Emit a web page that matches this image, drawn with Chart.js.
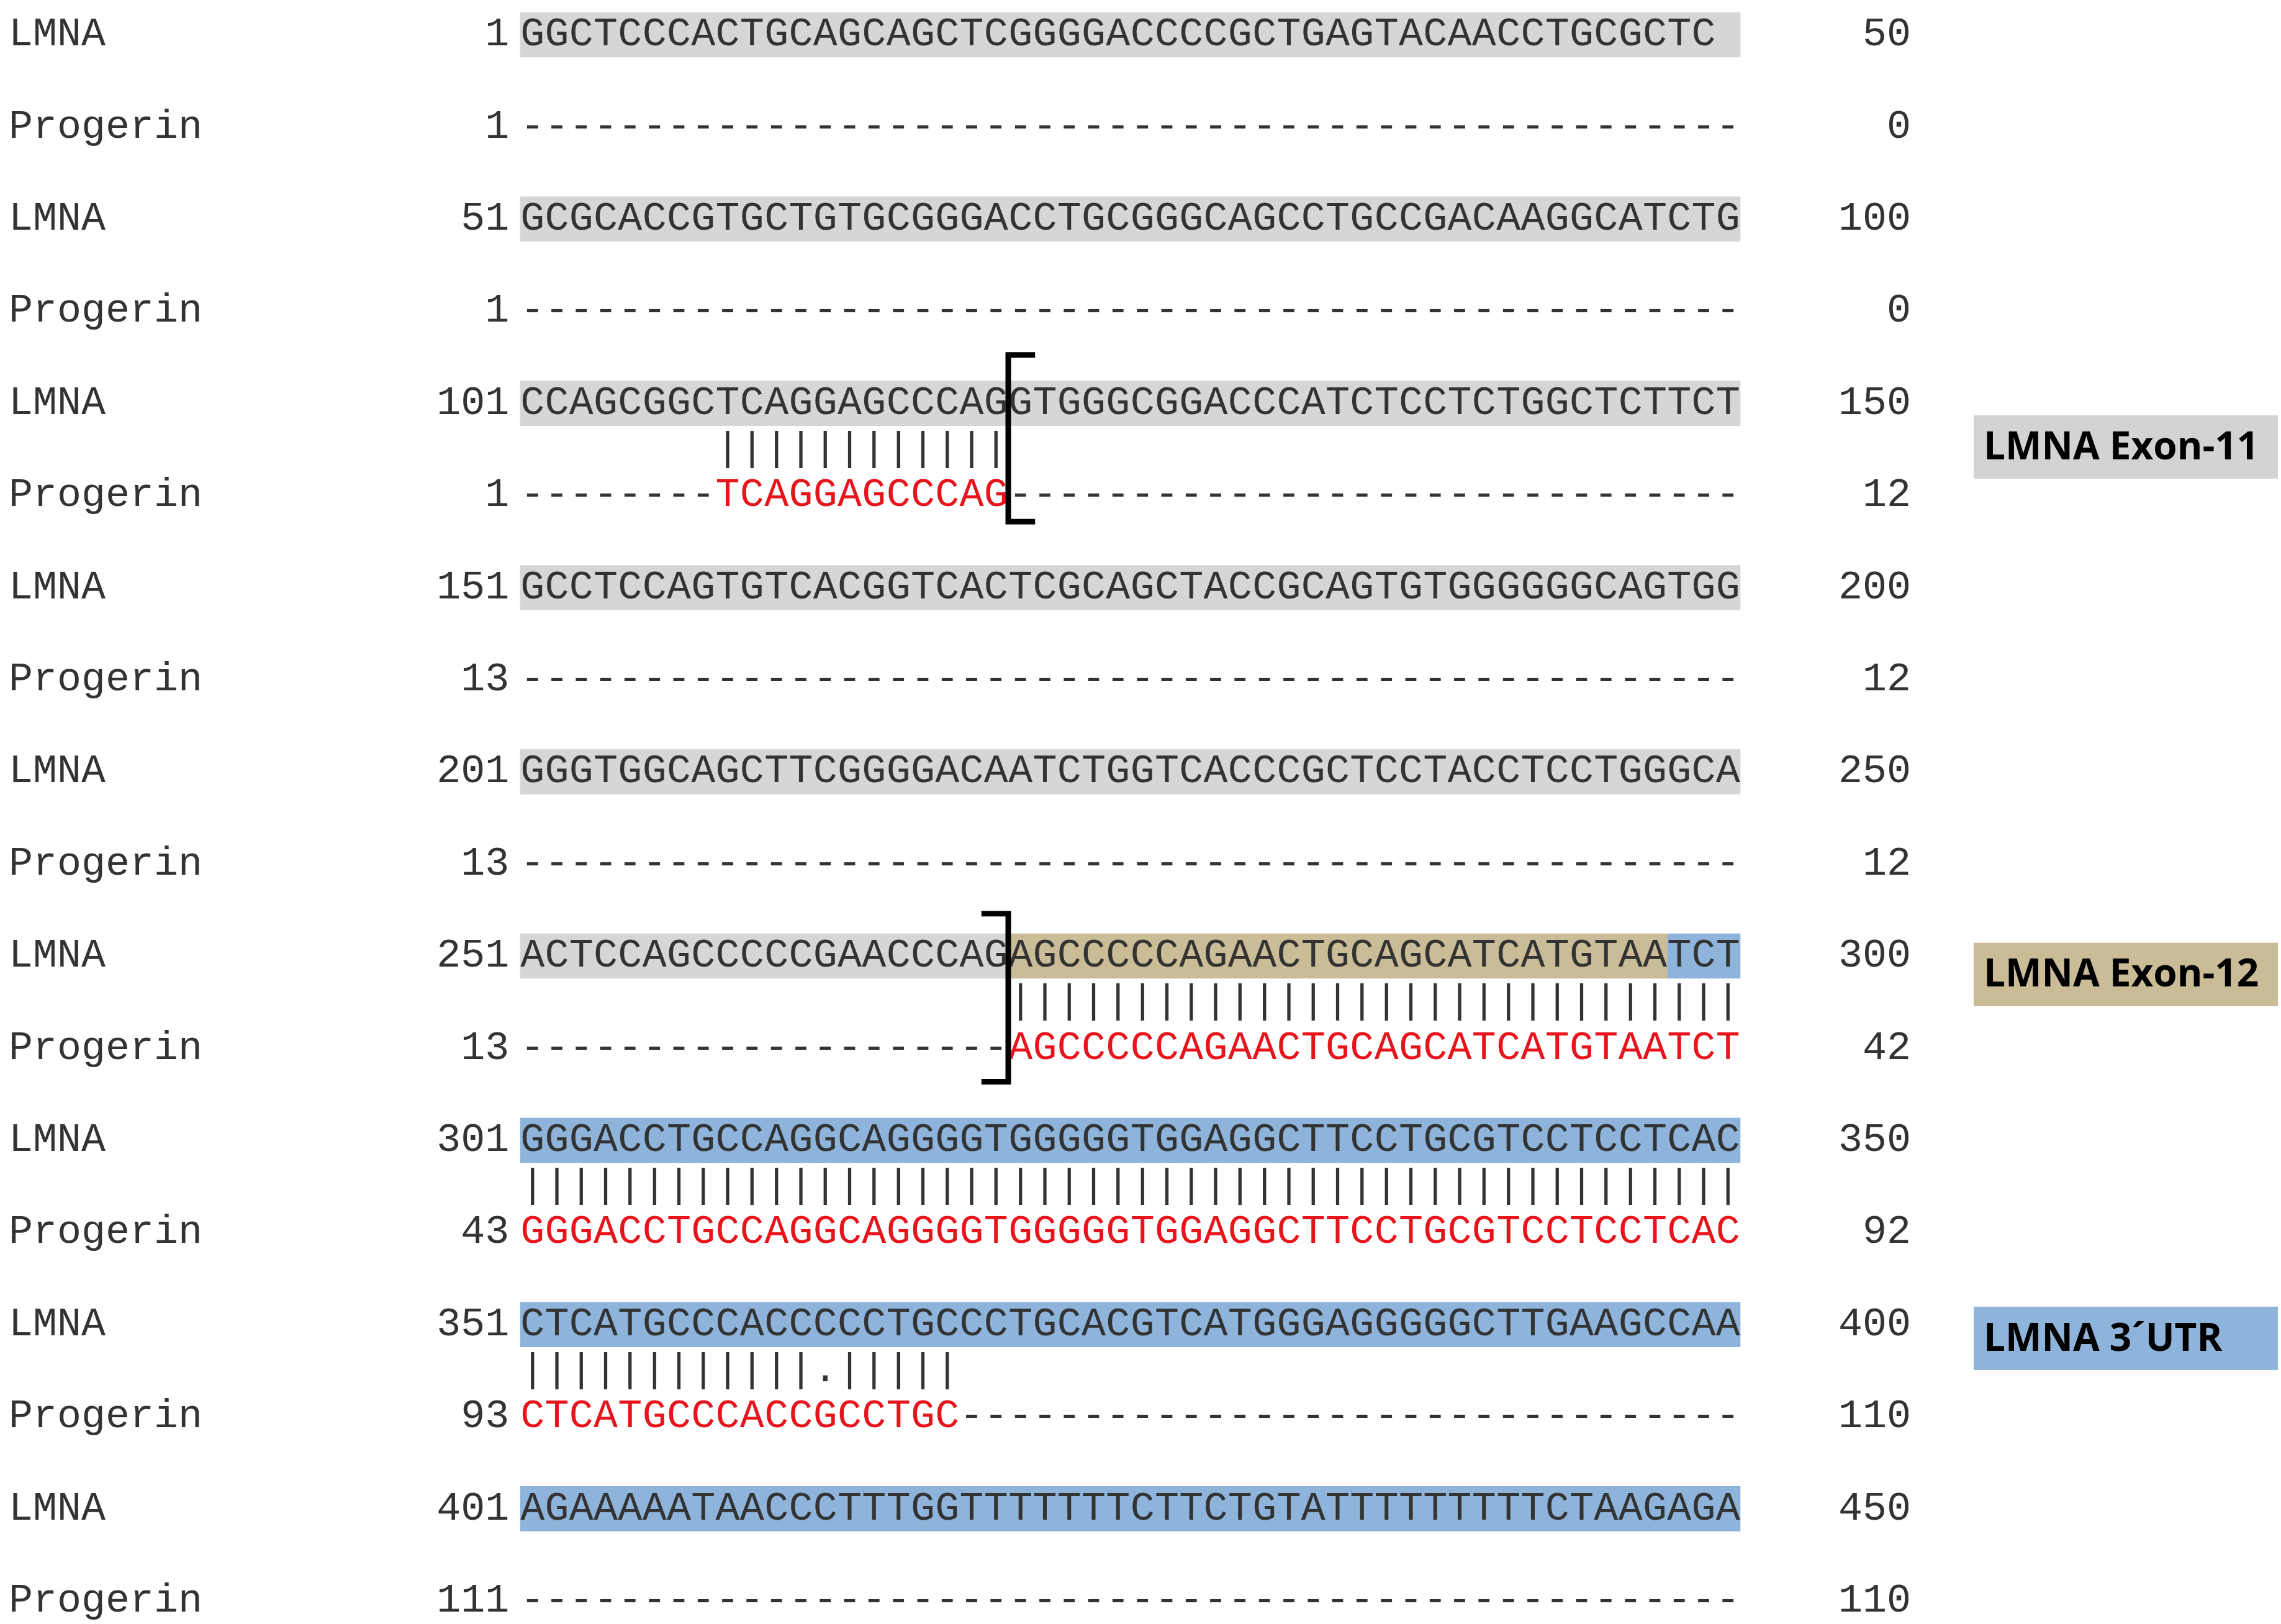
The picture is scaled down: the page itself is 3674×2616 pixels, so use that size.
<!DOCTYPE html>
<html><head><meta charset="utf-8">
<script src="https://cdn.jsdelivr.net/npm/chart.js@4"></script>
<style>html,body{margin:0;padding:0;background:#fff}#wrap{width:3674px;height:2616px}</style>
</head><body><div id="wrap"><canvas id="c"></canvas></div>
<script>
const names = ["LMNA","Progerin","LMNA","Progerin","LMNA","Progerin","LMNA","Progerin","LMNA","Progerin","LMNA","Progerin","LMNA","Progerin","LMNA","Progerin","LMNA","Progerin"];
const starts = [1,1,51,1,101,1,151,13,201,13,251,13,301,43,351,93,401,111];
const ends = [50,0,100,0,150,12,200,12,250,12,300,42,350,92,400,110,450,110];
const D = "-".repeat(50);
const seqs = [
"GGCTCCCACTGCAGCAGCTCGGGGACCCCGCTGAGTACAACCTGCGCTC", D,
"GCGCACCGTGCTGTGCGGGACCTGCGGGCAGCCTGCCGACAAGGCATCTG", D,
"CCAGCGGCTCAGGAGCCCAGGTGGGCGGACCCATCTCCTCTGGCTCTTCT", "--------TCAGGAGCCCAG" + "-".repeat(30),
"GCCTCCAGTGTCACGGTCACTCGCAGCTACCGCAGTGTGGGGGGCAGTGG", D,
"GGGTGGCAGCTTCGGGGACAATCTGGTCACCCGCTCCTACCTCCTGGGCA", D,
"ACTCCAGCCCCCGAACCCAGAGCCCCCAGAACTGCAGCATCATGTAATCT", "-".repeat(20) + "AGCCCCCAGAACTGCAGCATCATGTAATCT",
"GGGACCTGCCAGGCAGGGGTGGGGGTGGAGGCTTCCTGCGTCCTCCTCAC", "GGGACCTGCCAGGCAGGGGTGGGGGTGGAGGCTTCCTGCGTCCTCCTCAC",
"CTCATGCCCACCCCCTGCCCTGCACGTCATGGGAGGGGGCTTGAAGCCAA", "CTCATGCCCACCGCCTGC" + "-".repeat(32),
"AGAAAAATAACCCTTTGGTTTTTTTCTTCTGTATTTTTTTTTCTAAGAGA", D
];
const matches = [[9,"        ||||||||||||"],[21,"                    ||||||||||||||||||||||||||||||"],[25,"|".repeat(50)],[29,"||||||||||||.|||||"]];
const graySpans = [[0,0,50],[4,0,50],[8,0,50],[12,0,50],[16,0,50],[20,0,20]];
const tanSpans = [[20,20,47]];
const blueSpans = [[20,47,50],[24,0,50],[28,0,50],[32,0,50]];
const brackets = [{x:20, y0:6.95, y1:10.57, dir:1},{x:20, y0:19.08, y1:22.73, dir:-1}];
const regionLabels = [{text:"LMNA Exon-11", y:8.95, color:"#d3d3d3"},{text:"LMNA Exon-12", y:20.4, color:"#c9bc96"},{text:"LMNA 3\u00B4UTR", y:28.3, color:"#8eb4db"}];

const toBars = s => s.map(([h,a,b]) => ({x:[a,b], y:h}));
const MONO = '65px "Liberation Mono", "DejaVu Sans Mono", monospace';
const textPlugin = {
  id:'seqText',
  afterDatasetsDraw(chart){
    const {ctx, scales:{x,y}} = chart;
    const cw = x.getPixelForValue(1) - x.getPixelForValue(0);
    ctx.save();
    ctx.font = MONO; ctx.textBaseline = 'middle';
    names.forEach((n,i) => {
      const py = y.getPixelForValue(i*2);
      ctx.fillStyle = '#333'; ctx.textAlign = 'left';
      ctx.fillText(n, 14, py);
      ctx.textAlign = 'right';
      ctx.fillText(String(starts[i]), x.getPixelForValue(-0.45), py);
      ctx.fillText(String(ends[i]), x.getPixelForValue(57.0), py);
      ctx.textAlign = 'center';
      const s = seqs[i];
      for (let c=0;c<s.length;c++){
        const ch = s[c];
        ctx.fillStyle = (i%2===1 && ch!=='-') ? '#e8141c' : '#333';
        ctx.fillText(ch, x.getPixelForValue(c+0.5), py);
      }
    });
    ctx.fillStyle = '#333';
    matches.forEach(([h,s]) => {
      const py = y.getPixelForValue(h);
      for (let c=0;c<s.length;c++) if (s[c]!==' ') ctx.fillText(s[c], x.getPixelForValue(c+0.5), py);
    });
    ctx.strokeStyle = '#000'; ctx.lineWidth = 9; ctx.lineJoin='miter';
    brackets.forEach(b => {
      const px = x.getPixelForValue(b.x), t = px + b.dir*cw*1.1;
      const a = y.getPixelForValue(b.y0), e = y.getPixelForValue(b.y1);
      ctx.beginPath(); ctx.moveTo(t,a); ctx.lineTo(px,a); ctx.lineTo(px,e); ctx.lineTo(t,e); ctx.stroke();
    });
    ctx.font = 'bold 62px "Open Sans", "Liberation Sans", sans-serif';
    ctx.textAlign = 'left';
    regionLabels.forEach(l => {
      const py = y.getPixelForValue(l.y);
      ctx.fillStyle = l.color; ctx.fillRect(3179, py-51, 490, 102);
      ctx.fillStyle = '#000'; ctx.fillText(l.text, 3195, py+2);
    });
    ctx.restore();
  }
};
const bar = (d,c) => ({data:toBars(d), backgroundColor:c, barThickness:72, borderWidth:0, borderSkipped:false, grouped:false});
new Chart(document.getElementById('c'), {
  type:'bar',
  data:{datasets:[bar(graySpans,'#d6d6d6'), bar(tanSpans,'#c9bc96'), bar(blueSpans,'#8eb4db')]},
  options:{
    indexAxis:'y', responsive:true, maintainAspectRatio:false, animation:false,
    layout:{padding:0},
    plugins:{legend:{display:false}, tooltip:{enabled:false}},
    scales:{
      x:{type:'linear', offset:false, grace:0, min:-838/39.3, max:(3674-838)/39.3, display:false},
      y:{type:'linear', offset:false, grace:0, reverse:true, min:-56/74.2, max:(2616-56)/74.2, display:false}
    }
  },
  plugins:[textPlugin]
});
</script></body></html>
